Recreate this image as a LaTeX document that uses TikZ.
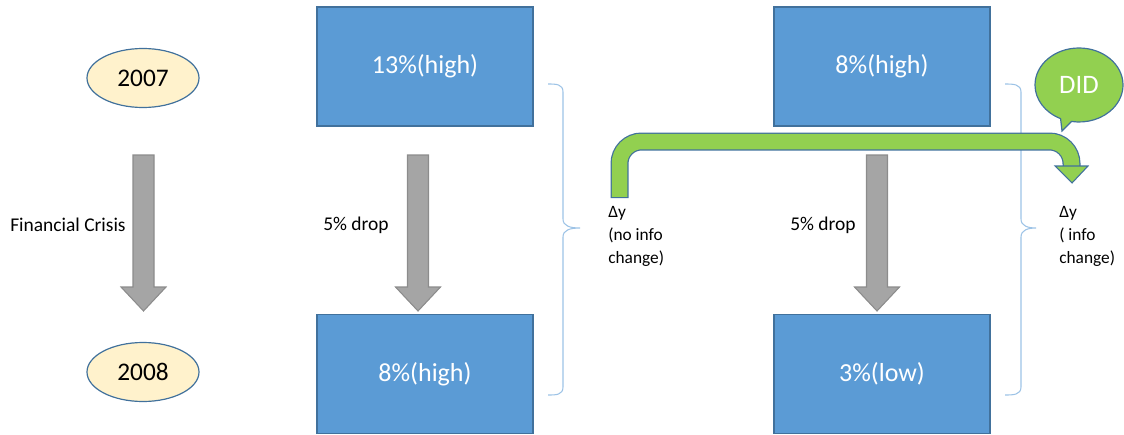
\documentclass[tikz,border=0pt]{standalone}
\usepackage{fontspec}
\setmainfont{Carlito}
\usetikzlibrary{shapes.geometric,shapes.callouts}
\definecolor{boxfill}{HTML}{5B9BD5}
\definecolor{boxline}{HTML}{41719C}
\definecolor{yearfill}{HTML}{FFF2CC}
\definecolor{arrfill}{HTML}{A5A5A5}
\definecolor{arrline}{HTML}{8C8C8C}
\definecolor{didgreen}{HTML}{92D050}
\definecolor{bracecol}{HTML}{9DC3E6}
\tikzset{
  valbox/.style={draw=boxline, fill=boxfill, line width=0.9pt, minimum width=216*0.75pt, minimum height=119*0.75pt, inner sep=0pt, text=white, font=\fontsize{19.5}{23}\selectfont},
  year/.style={ellipse, draw=boxline, fill=yearfill, line width=0.9pt, minimum width=112*0.75pt, minimum height=59*0.75pt, inner sep=0pt, font=\fontsize{19}{23}\selectfont},
  lbl/.style={font=\fontsize{14.6}{17}\selectfont, inner sep=0pt},
  dlbl/.style={font=\fontsize{13}{17.2}\selectfont, inner sep=0pt, align=left, anchor=north west},
  grayarrow/.style={draw=arrline, fill=arrfill, line width=0.8pt, line join=miter},
  bracestyle/.style={draw=bracecol, line width=0.8pt},
}
\begin{document}
\begin{tikzpicture}[x=0.75pt,y=-0.75pt]
\useasboundingbox (0,0) rectangle (1124,435);
% years
\node[year] (y7) at (143,78) {2007};
\node[year] (y8) at (143,372) {2008};
% boxes
\node[valbox] (b1) at (425,66.5) {13\%(high)};
\node[valbox] (b2) at (425,374) {8\%(high)};
\node[valbox] (b3) at (882,66.5) {8\%(high)};
\node[valbox] (b4) at (882,374) {3\%(low)};
% gray arrows
\foreach \cx in {143.5,418,877}{
  \draw[grayarrow] (\cx-10.5,155) -- (\cx+10.5,155) -- (\cx+10.5,287) -- (\cx+22.5,287) -- (\cx,311) -- (\cx-22.5,287) -- (\cx-10.5,287) -- cycle;
}
% labels
\node[lbl, anchor=west] (fc) at (10,225) {Financial Crisis};
\node[lbl, anchor=west] (d1) at (323,225) {5\% drop};
\node[lbl, anchor=west] (d2) at (790,225) {5\% drop};
% braces
\draw[bracestyle] (548,84) .. controls (556,84) and (563,84) .. (563,92) -- (563,219) .. controls (563,226) and (570,228) .. (580,228) .. controls (570,228) and (563,230) .. (563,237) -- (563,387) .. controls (563,395) and (556,395) .. (548,395);
\draw[bracestyle] (1005,84) .. controls (1013,84) and (1021,84) .. (1021,92) -- (1021,219) .. controls (1021,226) and (1028,228) .. (1036,228) .. controls (1028,228) and (1021,230) .. (1021,237) -- (1021,387) .. controls (1021,395) and (1013,395) .. (1005,395);
% delta y labels
\node[dlbl] (dy1) at (608,206) {Δy\\(no info\\change)};
\node[dlbl] (dy2) at (1059,206) {Δy\\( info\\change)};
% green bent arrow
\coordinate (gs) at (619.5,198);
\coordinate (ge) at (1071.5,167);
\draw[boxline, line width=18*0.75pt, rounded corners=22*0.75pt] (gs) -- (619.5,141.5) -- (1071.5,141.5) -- (ge);
\draw[didgreen, line width=15.5*0.75pt, rounded corners=22*0.75pt] ([yshift=0.9pt]gs) -- (619.5,141.5) -- (1071.5,141.5) -- ([yshift=-0.9pt]ge);
\draw[boxline, line width=0.8pt, fill=didgreen, line join=miter] (1055,166) -- (1088,166) -- (1072,183) -- cycle;
% DID callout
\node[ellipse callout, draw=boxline, fill=didgreen, line width=0.9pt, minimum width=88*0.75pt, minimum height=74*0.75pt, text=white, font=\fontsize{20}{23}\selectfont, callout absolute pointer={(1062,131)}] (did) at (1079,85) {DID};
\end{tikzpicture}
\end{document}
